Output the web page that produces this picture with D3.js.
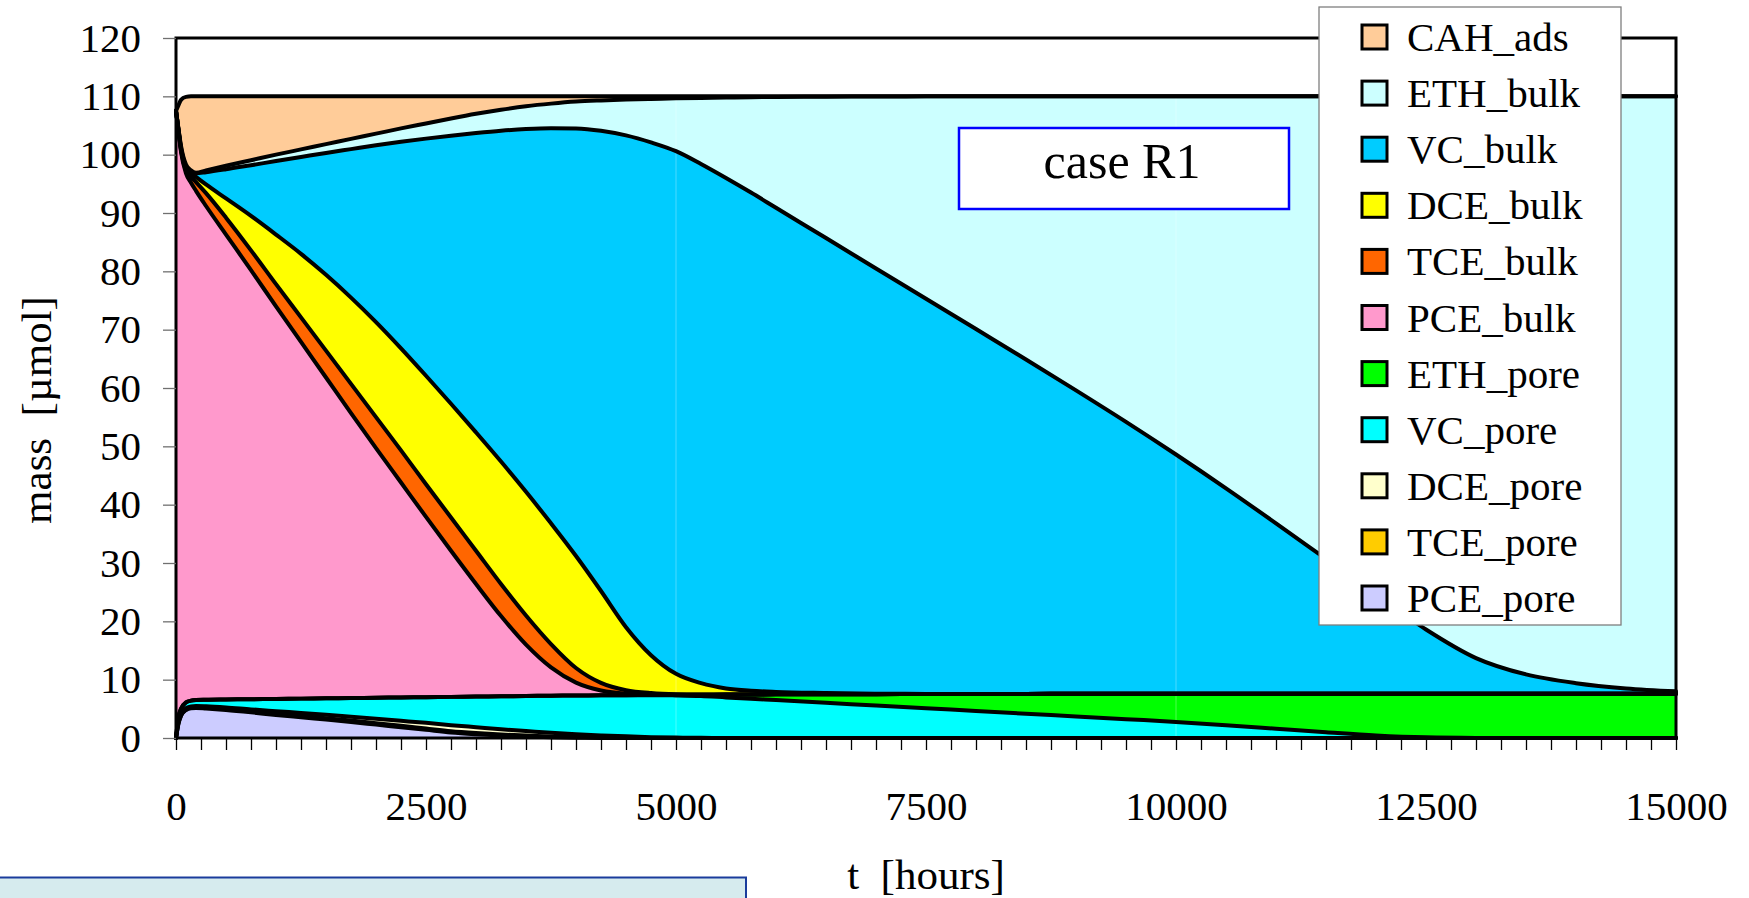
<!DOCTYPE html>
<html>
<head>
<meta charset="utf-8">
<script src="https://cdn.jsdelivr.net/npm/d3@7"></script>
<style>
  html, body { margin: 0; padding: 0; background: #ffffff; }
  svg { display: block; }
  text { font-family: "Liberation Serif", "Times New Roman", serif; fill: #000; }
</style>
</head>
<body>
<svg id="chart" width="1749" height="898"></svg>
<script>
// Time axis (hours)
const hours = [0, 25, 50, 100, 150, 200, 300, 500, 750, 1000, 1250, 1500, 1750, 2000, 2250, 2500, 2750,
  3000, 3250, 3500, 3750, 4000, 4250, 4500, 4750, 5000, 5250, 5500, 5750, 6000, 6500, 7000, 7500, 8000,
  8500, 9000, 9500, 10000, 10500, 11000, 11500, 12000, 12500, 13000, 13500, 14000, 14500, 15000];

// Mass of each compartment (µmol) at the times above
const PCE_pore = [0, 2.5, 3.8, 4.8, 5.1, 5.15, 5.05, 4.8, 4.4, 3.95, 3.55, 3.15, 2.75, 2.3, 1.85, 1.4, 0.95,
  0.65, 0.42, 0.25, 0.12, 0.05, 0.02, 0, 0, 0, 0, 0, 0, 0, 0, 0, 0, 0,
  0, 0, 0, 0, 0, 0, 0, 0, 0, 0, 0, 0, 0, 0];
const TCE_pore = [0, 0.02, 0.05, 0.07, 0.08, 0.1, 0.12, 0.15, 0.18, 0.2, 0.22, 0.23, 0.24, 0.24, 0.24, 0.23, 0.22,
  0.2, 0.18, 0.16, 0.13, 0.1, 0.07, 0.04, 0.02, 0.01, 0, 0, 0, 0, 0, 0, 0, 0,
  0, 0, 0, 0, 0, 0, 0, 0, 0, 0, 0, 0, 0, 0];
const DCE_pore = [0, 0.28, 0.25, 0.23, 0.22, 0.25, 0.28, 0.3, 0.32, 0.45, 0.53, 0.62, 0.66, 0.76, 0.86, 0.97, 1.03,
  1.0, 0.9, 0.79, 0.65, 0.5, 0.36, 0.24, 0.13, 0.06, 0.03, 0.01, 0, 0, 0, 0, 0, 0,
  0, 0, 0, 0, 0, 0, 0, 0, 0, 0, 0, 0, 0, 0];
const VC_pore = [0, 0.8, 0.9, 1.0, 1.0, 1.0, 1.1, 1.35, 1.75, 2.1, 2.45, 2.8, 3.2, 3.6, 4.0, 4.4, 4.85,
  5.25, 5.65, 6.0, 6.35, 6.63, 6.86, 7.05, 7.19, 7.23, 7.17, 6.95, 6.73, 6.5, 6.03, 5.57, 5.1, 4.63,
  4.16, 3.7, 3.23, 2.76, 2.2, 1.6, 1.0, 0.45, 0.12, 0.02, 0, 0, 0, 0];
const ETH_pore = [0, 0, 0, 0, 0, 0, 0, 0, 0, 0, 0, 0, 0, 0, 0, 0, 0,
  0, 0, 0, 0, 0, 0, 0.01, 0.03, 0.1, 0.22, 0.48, 0.73, 0.98, 1.47, 1.95, 2.44, 2.92,
  3.4, 3.87, 4.35, 4.83, 5.4, 6.0, 6.6, 7.15, 7.48, 7.58, 7.6, 7.6, 7.6, 7.6];
const PCE_bulk = [107.5, 100.4, 95.5, 90.7, 88.8, 87.3, 84.65, 79.7, 73.55, 67.3, 61.15, 55.0, 48.85, 42.8, 36.85, 30.9, 25.05,
  19.3, 13.75, 8.8, 4.85, 2.22, 0.84, 0.26, 0.08, 0.03, 0.01, 0, 0, 0, 0, 0, 0, 0,
  0, 0, 0, 0, 0, 0, 0, 0, 0, 0, 0, 0, 0, 0];
const TCE_bulk = [0, 0.1, 0.3, 0.5, 1.0, 1.5, 2.2, 2.9, 3.4, 3.8, 4.2, 4.6, 5.0, 5.3, 5.5, 5.6, 5.7,
  5.7, 5.5, 5.0, 4.0, 2.5, 1.3, 0.6, 0.25, 0.07, 0.02, 0, 0, 0, 0, 0, 0, 0,
  0, 0, 0, 0, 0, 0, 0, 0, 0, 0, 0, 0, 0, 0];
const DCE_bulk = [0, 0.1, 0.2, 0.5, 0.7, 0.9, 1.5, 3.3, 5.9, 8.5, 10.9, 13.0, 14.8, 16.3, 17.5, 18.6, 19.5,
  20.3, 21.0, 21.2, 20.7, 19.2, 15.75, 10.8, 6.5, 3.5, 1.95, 1.06, 0.64, 0.42, 0.22, 0.08, 0.02, 0,
  0, 0, 0, 0, 0, 0, 0, 0, 0, 0, 0, 0, 0, 0];
const VC_bulk = [0, 0.1, 0.2, 0.2, 0.2, 0.6, 2.1, 5.0, 8.7, 12.6, 16.6, 20.9, 25.45, 30.3, 35.4, 40.65, 45.95,
  51.3, 56.7, 62.2, 67.75, 73.3, 78.9, 84.3, 87.9, 89.6, 89.0, 87.5, 85.4, 83.0, 77.98, 72.9, 67.74, 62.55,
  57.34, 52.03, 46.62, 41.01, 35.2, 29.2, 23.1, 17.0, 11.0, 6.1, 3.3, 1.8, 0.9, 0.4];
const ETH_bulk = [0, 0.1, 0.3, 0.3, 0.2, 0.1, 0.3, 0.6, 0.85, 1.1, 1.3, 1.5, 1.75, 2.0, 2.3, 2.6, 2.95,
  3.3, 3.6, 3.9, 4.2, 4.6, 5.2, 6.15, 7.45, 9.05, 11.32, 13.8, 16.35, 19.0, 24.24, 29.47, 34.7, 39.9,
  45.1, 50.4, 55.8, 61.4, 67.2, 73.2, 79.3, 85.4, 91.4, 96.3, 99.1, 100.6, 101.5, 102.0];
const CAH_ads = [0, 4.1, 7.9, 11.6, 12.7, 13.1, 12.7, 11.9, 10.95, 10.0, 9.1, 8.2, 7.3, 6.4, 5.5, 4.65, 3.8,
  3.0, 2.3, 1.7, 1.25, 0.9, 0.7, 0.55, 0.45, 0.35, 0.28, 0.2, 0.15, 0.1, 0.06, 0.03, 0, 0,
  0, 0, 0, 0, 0, 0, 0, 0, 0, 0, 0, 0, 0, 0];

// Stacking order, bottom to top
const seriesNames = ["PCE_pore", "TCE_pore", "DCE_pore", "VC_pore", "ETH_pore",
  "PCE_bulk", "TCE_bulk", "DCE_bulk", "VC_bulk", "ETH_bulk", "CAH_ads"];
const seriesColors = ["#CCCCFF", "#FFCC00", "#FFFFCC", "#00FFFF", "#00FF00",
  "#FF99CC", "#FF6600", "#FFFF00", "#00CCFF", "#CCFFFF", "#FFCC99"];

// Axis ticks
const yTicks = [0, 10, 20, 30, 40, 50, 60, 70, 80, 90, 100, 110, 120];
const xLabelTicks = [0, 2500, 5000, 7500, 10000, 12500, 15000];
const xMinorStep = 250;

const seriesData = { PCE_pore, TCE_pore, DCE_pore, VC_pore, ETH_pore,
  PCE_bulk, TCE_bulk, DCE_bulk, VC_bulk, ETH_bulk, CAH_ads };

const rows = hours.map((t, i) => {
  const r = { t };
  seriesNames.forEach(k => { r[k] = seriesData[k][i]; });
  return r;
});

const svg = d3.select("#chart");
const plotLeft = 176, plotRight = 1676, plotTop = 38, plotBottom = 738;

const x = d3.scaleLinear().domain([0, 15000]).range([plotLeft, plotRight]);
const y = d3.scaleLinear().domain([0, 120]).range([plotBottom, plotTop]);
const color = d3.scaleOrdinal().domain(seriesNames).range(seriesColors);

const stacked = d3.stack().keys(seriesNames)(rows);

const area = d3.area()
  .x(d => x(d.data.t))
  .y0(d => y(d[0]))
  .y1(d => y(d[1]))
  .curve(d3.curveMonotoneX);

const topLine = d3.line()
  .x(d => x(d.data.t))
  .y(d => y(d[1]))
  .curve(d3.curveMonotoneX);

// Filled layers
svg.append("g")
  .selectAll("path")
  .data(stacked)
  .join("path")
  .attr("fill", d => color(d.key))
  .attr("d", area);

// Faint vertical grid traces
svg.append("g")
  .selectAll("line")
  .data([5000, 10000])
  .join("line")
  .attr("x1", d => x(d)).attr("x2", d => x(d))
  .attr("y1", y(120)).attr("y2", y(0))
  .attr("stroke", "#ffffff")
  .attr("stroke-opacity", 0.3)
  .attr("stroke-width", 1);

// Black outlines along the top of every layer
svg.append("g")
  .selectAll("path")
  .data(stacked)
  .join("path")
  .attr("fill", "none")
  .attr("stroke", "#000")
  .attr("stroke-width", 4)
  .attr("stroke-linejoin", "round")
  .attr("stroke-linecap", "round")
  .attr("d", topLine);

// Plot frame
svg.append("rect")
  .attr("x", plotLeft).attr("y", plotTop)
  .attr("width", plotRight - plotLeft).attr("height", plotBottom - plotTop)
  .attr("fill", "none")
  .attr("stroke", "#000")
  .attr("stroke-width", 3);

// X axis: minor ticks every 250 h, labels every 2500 h
const xAxis = d3.axisBottom(x)
  .tickValues(d3.range(0, 15001, xMinorStep))
  .tickFormat(d => xLabelTicks.includes(d) ? String(d) : "")
  .tickSize(12)
  .tickSizeOuter(0);
const gx = svg.append("g").attr("transform", `translate(0,${plotBottom})`).call(xAxis);
gx.select(".domain").remove();
gx.selectAll(".tick line").attr("stroke", "#000").attr("stroke-width", 1.3);
gx.selectAll(".tick text")
  .attr("y", 82).attr("dy", 0)
  .style("font-family", '"Liberation Serif", "Times New Roman", serif')
  .style("font-size", "41px")
  .attr("fill", "#000");

// Y axis
const yAxis = d3.axisLeft(y)
  .tickValues(yTicks)
  .tickSize(13)
  .tickSizeOuter(0)
  .tickPadding(22);
const gy = svg.append("g").attr("transform", `translate(${plotLeft},0)`).call(yAxis);
gy.select(".domain").remove();
gy.selectAll(".tick line").attr("stroke", "#707070").attr("stroke-width", 1.3);
gy.selectAll(".tick text")
  .attr("dy", "0.32em")
  .style("font-family", '"Liberation Serif", "Times New Roman", serif')
  .style("font-size", "41px")
  .attr("fill", "#000");

// Axis titles
svg.append("text")
  .attr("x", 926).attr("y", 889)
  .attr("text-anchor", "middle")
  .style("font-size", "43px")
  .style("white-space", "pre")
  .text("t  [hours]");

svg.append("text")
  .attr("transform", "translate(51,410) rotate(-90)")
  .attr("text-anchor", "middle")
  .style("font-size", "43px")
  .style("white-space", "pre")
  .text("mass  [µmol]");

// Case label
svg.append("rect")
  .attr("x", 959).attr("y", 128)
  .attr("width", 330).attr("height", 81)
  .attr("fill", "#ffffff")
  .attr("stroke", "#0000FF")
  .attr("stroke-width", 2.5);
svg.append("text")
  .attr("x", 1122).attr("y", 178)
  .attr("text-anchor", "middle")
  .style("font-size", "50px")
  .text("case R1");

// Legend (top layer first)
const legendKeys = seriesNames.slice().reverse();
const legend = svg.append("g");
legend.append("rect")
  .attr("x", 1319).attr("y", 7)
  .attr("width", 302).attr("height", 618)
  .attr("fill", "#ffffff")
  .attr("stroke", "#7f7f7f")
  .attr("stroke-width", 1.3);
const items = legend.selectAll("g.item")
  .data(legendKeys)
  .join("g")
  .attr("class", "item")
  .attr("transform", (d, i) => `translate(0,${37 + i * 56.1})`);
items.append("rect")
  .attr("x", 1362).attr("y", -12)
  .attr("width", 25).attr("height", 24)
  .attr("fill", d => color(d))
  .attr("stroke", "#000")
  .attr("stroke-width", 3);
items.append("text")
  .attr("x", 1407).attr("y", 14)
  .style("font-size", "41px")
  .text(d => d);

// Panel strip at the lower left
svg.append("rect")
  .attr("x", -3).attr("y", 877.5)
  .attr("width", 749).attr("height", 40)
  .attr("fill", "#D6EBEE")
  .attr("stroke", "#1A3C9C")
  .attr("stroke-width", 2);
</script>
</body>
</html>
